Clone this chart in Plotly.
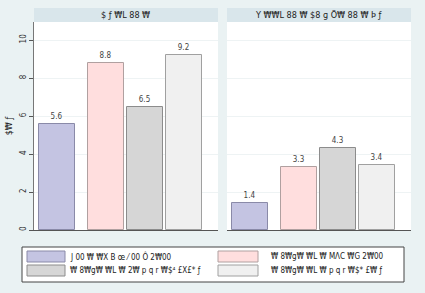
import plotly.graph_objects as go

# ---- data ----
panel_titles = ["$ ƒ ₩L 88 ₩", "Y ₩₩L 88 ₩ $8 ɡ Ö₩ 88 ₩ Þ ƒ"]
series_names = [
    "J 00 ₩ ₩X B œ ⁄ 00 Ô 2₩00",
    "₩ 8₩g₩ ₩L ₩ MΛC ₩G 2₩00",
    "₩ 8₩g₩ ₩L ₩ 2₩ p q r ₩$⁴ £X£* ƒ",
    "₩ 8₩g₩ ₩L ₩ p q r ₩$* £₩ ƒ",
]
panel1_values = [5.6, 8.8, 6.5, 9.2]
panel2_values = [1.4, 3.3, 4.3, 3.4]
y_title = "$₩ ƒ"
y_ticks = [0, 2, 4, 6, 8, 10]

# ---- styles ----
fills = ["#c4c4e2", "#ffdede", "#d6d6d6", "#f0f0f0"]
edges = ["#8a8aa8", "#b0a0a0", "#8c8c8c", "#a0a0a0"]
BG = "#eaf2f3"
STRIP = "#d9e6eb"
FONT = "Liberation Sans Narrow, DejaVu Sans Condensed, sans-serif"
W, H = 425, 293

def px(x):
    return x / W

def py(y):
    return 1 - y / H

# bar slot centres within each panel's pixel-like axis (layout, not data)
slots = [23 + 39 * i + (10 if i > 0 else 0) for i in range(4)]

fig = go.Figure()
for panel, vals in enumerate([panel1_values, panel2_values]):
    for i, v in enumerate(vals):
        fig.add_trace(go.Bar(
            x=[slots[i]], y=[v], width=36,
            marker=dict(color=fills[i], line=dict(color=edges[i], width=1)),
            text=[f"{v:.1f}"], textposition="outside",
            textfont=dict(size=8, color="#444", family=FONT),
            cliponaxis=False, showlegend=False,
            xaxis="x" if panel == 0 else "x2",
            yaxis="y" if panel == 0 else "y2",
        ))

ydom = [py(230), py(22)]
common_x = dict(range=[0, 184], showticklabels=False, ticks="", showgrid=False,
                zeroline=False, showline=True, linecolor="#555", linewidth=1,
                fixedrange=True)
fig.update_layout(
    width=W, height=H, margin=dict(l=0, r=0, t=0, b=0),
    paper_bgcolor=BG, plot_bgcolor="white",
    font=dict(family=FONT, size=9, color="#222"),
    bargap=0, barmode="overlay",
    xaxis=dict(domain=[px(34), px(218)], anchor="y", **common_x),
    xaxis2=dict(domain=[px(227), px(411)], anchor="y2", **common_x),
    yaxis=dict(domain=ydom, range=[0, 10.95], tickvals=y_ticks, tickangle=-90,
               ticks="outside", ticklen=4, tickcolor="#555",
               showline=True, linecolor="#777", linewidth=1,
               showgrid=True, gridcolor="#eef3f4", gridwidth=1, zeroline=False,
               tickfont=dict(size=8, color="#333"),
               title=dict(text=y_title, font=dict(size=9), standoff=4)),
    yaxis2=dict(domain=ydom, range=[0, 10.95], tickvals=y_ticks, anchor="x2",
                showticklabels=False, ticks="", showline=False,
                showgrid=True, gridcolor="#eef3f4", gridwidth=1, zeroline=False),
)

shapes = []
annotations = []
# header strips
for (x0, x1), title in zip([(34, 218), (227, 411)], panel_titles):
    shapes.append(dict(type="rect", xref="paper", yref="paper",
                       x0=px(x0), x1=px(x1), y0=py(22), y1=py(8),
                       fillcolor=STRIP, line=dict(width=0), layer="below"))
    annotations.append(dict(text=title, xref="paper", yref="paper",
                            x=px((x0 + x1) / 2), y=py(15), showarrow=False,
                            xanchor="center", yanchor="middle",
                            font=dict(size=9, color="#222")))

# legend box
shapes.append(dict(type="rect", xref="paper", yref="paper",
                   x0=px(22), x1=px(404), y0=py(282), y1=py(247),
                   fillcolor="white", line=dict(color="#444", width=1)))
sw_x = [(27, 65), (218, 258)]
sw_y = [(251, 262), (265, 276)]
txt_x = [68, 269]
for k, name in enumerate(series_names):
    col, row = k % 2, k // 2
    shapes.append(dict(type="rect", xref="paper", yref="paper",
                       x0=px(sw_x[col][0]), x1=px(sw_x[col][1]),
                       y0=py(sw_y[row][1]), y1=py(sw_y[row][0]),
                       fillcolor=fills[k], line=dict(color=edges[k], width=1)))
    annotations.append(dict(text=name, xref="paper", yref="paper",
                            x=px(txt_x[col]), y=py((sw_y[row][0] + sw_y[row][1]) / 2),
                            showarrow=False, xanchor="left", yanchor="middle",
                            font=dict(size=8, color="#222")))

fig.update_layout(shapes=shapes, annotations=annotations)
fig.write_html("out.html")
